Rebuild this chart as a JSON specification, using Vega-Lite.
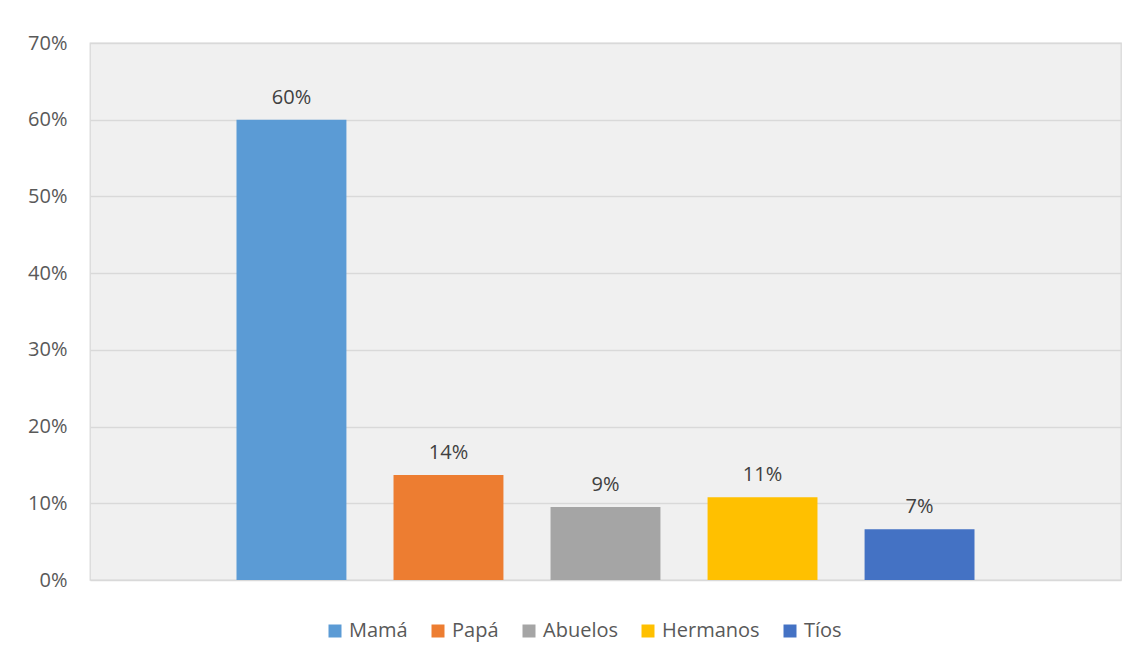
{
  "$schema": "https://vega.github.io/schema/vega-lite/v6.json",
  "width": 1031,
  "height": 537,
  "autosize": {"type": "none"},
  "padding": {"left": 90, "top": 43, "right": 16, "bottom": 81},
  "background": "#ffffff",
  "config": {
    "font": "Open Sans",
    "view": {"fill": "#f0f0f0", "stroke": "#d9d9d9", "strokeWidth": 1.3}
  },
  "data": {
    "values": [
      {"familiar": "Mamá", "valor": 0.600, "etiqueta": "60%"},
      {"familiar": "Papá", "valor": 0.137, "etiqueta": "14%"},
      {"familiar": "Abuelos", "valor": 0.095, "etiqueta": "9%"},
      {"familiar": "Hermanos", "valor": 0.108, "etiqueta": "11%"},
      {"familiar": "Tíos", "valor": 0.066, "etiqueta": "7%"}
    ]
  },
  "encoding": {
    "x": {
      "field": "familiar",
      "type": "nominal",
      "sort": ["Mamá", "Papá", "Abuelos", "Hermanos", "Tíos"],
      "scale": {"paddingInner": 0.3, "paddingOuter": 0.933},
      "axis": null
    }
  },
  "layer": [
    {
      "mark": {"type": "bar"},
      "encoding": {
        "y": {
          "field": "valor",
          "type": "quantitative",
          "scale": {"domain": [0, 0.7], "nice": false},
          "axis": {
            "values": [0, 0.1, 0.2, 0.3, 0.4, 0.5, 0.6, 0.7],
            "format": ".0%",
            "title": null,
            "domain": false,
            "ticks": false,
            "labelPadding": 23,
            "labelFontSize": 20,
            "labelColor": "#595959",
            "labelFont": "Open Sans",
            "gridColor": "#d9d9d9",
            "gridWidth": 1.5,
            "gridOpacity": 1
          }
        },
        "color": {
          "field": "familiar",
          "type": "nominal",
          "sort": ["Mamá", "Papá", "Abuelos", "Hermanos", "Tíos"],
          "scale": {
            "domain": ["Mamá", "Papá", "Abuelos", "Hermanos", "Tíos"],
            "range": ["#5B9BD5", "#ED7D31", "#A5A5A5", "#FFC000", "#4472C4"]
          },
          "legend": {
            "title": null,
            "orient": "none",
            "direction": "horizontal",
            "columns": 5,
            "legendX": 235,
            "legendY": 578,
            "padding": 0,
            "symbolType": "square",
            "symbolSize": 169,
            "symbolStrokeWidth": 0,
            "labelFontSize": 20,
            "labelColor": "#595959",
            "labelFont": "Open Sans",
            "labelOffset": 4,
            "columnPadding": 20
          }
        }
      }
    },
    {
      "mark": {
        "type": "text",
        "baseline": "alphabetic",
        "dy": -16,
        "fontSize": 20,
        "color": "#404040",
        "font": "Open Sans"
      },
      "encoding": {
        "y": {"field": "valor", "type": "quantitative"},
        "text": {"field": "etiqueta", "type": "nominal"}
      }
    }
  ]
}
